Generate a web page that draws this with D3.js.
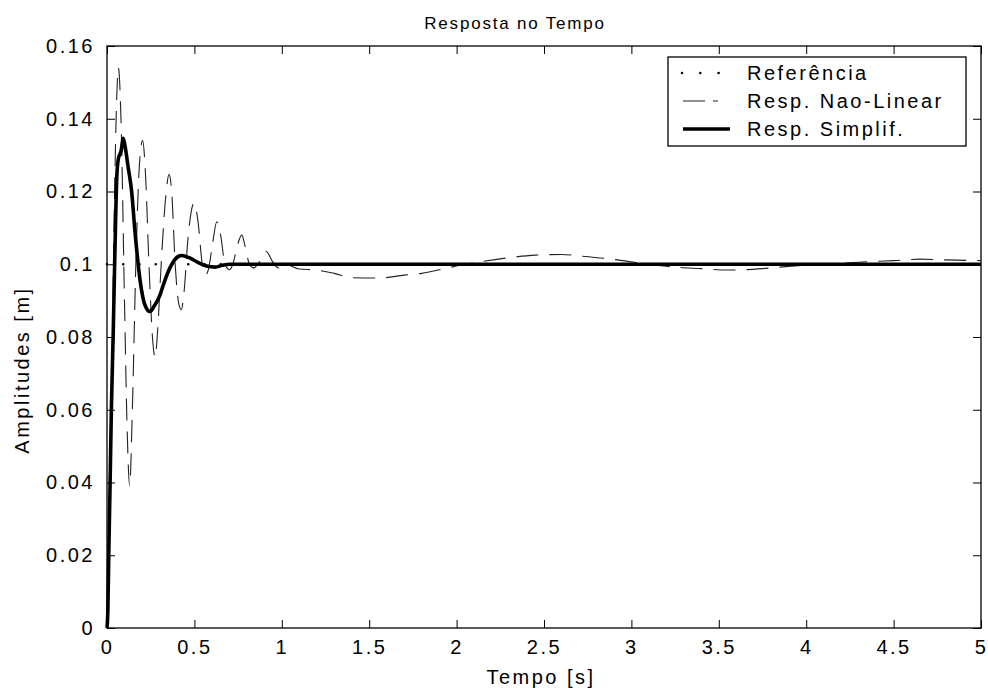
<!DOCTYPE html>
<html lang="pt">
<head>
  <meta charset="UTF-8">
  <title>Resposta no Tempo</title>
  <style>
    body { margin: 0; background: #fff; }
    svg text { font-family: "Liberation Sans", Arial, sans-serif; fill: #000; }
  </style>
</head>
<body>
    <script src="https://cdn.jsdelivr.net/npm/d3@7/dist/d3.min.js"></script>
    <script>
      const width = 988
      const height = 688
      const margin = {top: 46, right: 7, bottom: 60, left: 107}

      // eixos
      const xTicks = [0, 0.5, 1, 1.5, 2, 2.5, 3, 3.5, 4, 4.5, 5]
      const yTicks = [0, 0.02, 0.04, 0.06, 0.08, 0.1, 0.12, 0.14, 0.16]

      // referencia (degrau de 0.1 m)
      const refTime = [0, 5]
      const refValue = [0.1, 0.1]

      // resposta nao-linear
      const nlTime = [0, 0.02, 0.04, 0.055, 0.065, 0.08, 0.1, 0.115, 0.13, 0.145, 0.165, 0.185, 0.204,
        0.22, 0.24, 0.26, 0.275, 0.29, 0.31, 0.335, 0.355, 0.37, 0.39, 0.41, 0.425, 0.44, 0.465, 0.498,
        0.52, 0.545, 0.562, 0.58, 0.605, 0.628, 0.65, 0.675, 0.7, 0.72, 0.745, 0.771, 0.79, 0.815, 0.84,
        0.87, 0.91, 0.95, 0.98, 1.02, 1.1, 1.2, 1.3, 1.4, 1.55, 1.7, 1.8, 1.95, 2.05, 2.15, 2.3, 2.45,
        2.6, 2.7, 2.85, 2.95, 3.1, 3.25, 3.4, 3.55, 3.65, 3.75, 3.85, 4.0, 4.2, 4.4, 4.5, 4.65, 4.8, 5]
      const nlValue = [0, 0.04, 0.11, 0.145, 0.154, 0.14, 0.09, 0.055, 0.039, 0.06, 0.1, 0.127, 0.134,
        0.125, 0.1, 0.08, 0.0744, 0.082, 0.1, 0.118, 0.1247, 0.12, 0.1, 0.0893, 0.0875, 0.092, 0.108, 0.1168,
        0.112, 0.1, 0.097, 0.0985, 0.106, 0.1117, 0.108, 0.1, 0.0985, 0.1, 0.105, 0.108, 0.105, 0.1, 0.099,
        0.1005, 0.1035, 0.1005, 0.099, 0.1, 0.0987, 0.0984, 0.0975, 0.0963, 0.0962, 0.097, 0.0975, 0.099, 0.1,
        0.1008, 0.1018, 0.1025, 0.1027, 0.1023, 0.1016, 0.101, 0.1, 0.0992, 0.0988, 0.0984, 0.0985, 0.0988,
        0.0992, 0.0998, 0.1003, 0.1008, 0.101, 0.1014, 0.1012, 0.101]

      // resposta simplificada
      const simTime = [0, 0.005, 0.01, 0.017, 0.025, 0.036, 0.046, 0.056, 0.065, 0.08, 0.093, 0.105, 0.12,
        0.141, 0.16, 0.189, 0.217, 0.246, 0.27, 0.303, 0.32, 0.36, 0.41, 0.428, 0.47, 0.52, 0.57, 0.618,
        0.66, 0.7, 5]
      const simValue = [0, 0.005, 0.02, 0.038, 0.06, 0.082, 0.105, 0.124, 0.129, 0.131, 0.1346, 0.132, 0.127,
        0.12, 0.109, 0.0957, 0.0888, 0.087, 0.0885, 0.0915, 0.094, 0.099, 0.1022, 0.1024, 0.1018, 0.1005,
        0.0995, 0.0992, 0.0997, 0.1, 0.1]

      const legendLabels = ["Referência", "Resp. Nao-Linear", "Resp. Simplif."]

      const iw = width - margin.left - margin.right
      const ih = height - margin.top - margin.bottom

      const x = d3.scaleLinear().domain([0, 5]).range([0, iw])
      const y = d3.scaleLinear().domain([0, 0.16]).range([ih, 0])

      const svg = d3.select("body").append("svg")
        .attr("width", width)
        .attr("height", height)

      const g = svg.append("g")
        .attr("transform", "translate(" + margin.left + "," + margin.top + ")")

      const fmt = d => String(+d.toFixed(2))
      const fontSize = 20
      const spacing = "2.5px"

      // eixos com ticks para dentro (estilo matlab)
      const axB = g.append("g").attr("transform", "translate(0," + ih + ")")
        .call(d3.axisBottom(x).tickValues(xTicks).tickFormat(fmt).tickSizeInner(-8).tickSizeOuter(0).tickPadding(12))
      const axT = g.append("g")
        .call(d3.axisTop(x).tickValues(xTicks).tickFormat("").tickSizeInner(-8).tickSizeOuter(0))
      const axL = g.append("g")
        .call(d3.axisLeft(y).tickValues(yTicks).tickFormat(fmt).tickSizeInner(-8).tickSizeOuter(0).tickPadding(12))
      const axR = g.append("g").attr("transform", "translate(" + iw + ",0)")
        .call(d3.axisRight(y).tickValues(yTicks).tickFormat("").tickSizeInner(-8).tickSizeOuter(0))

      ;[axB, axT, axL, axR].forEach(a => {
        a.select(".domain").remove()
        a.selectAll("line").attr("stroke", "#000")
        a.selectAll("text").attr("font-size", fontSize).attr("letter-spacing", spacing)
          .attr("font-family", "Liberation Sans, Arial, sans-serif")
      })

      // moldura
      g.append("rect").attr("width", iw).attr("height", ih)
        .attr("fill", "none").attr("stroke", "#000").attr("stroke-width", 1.3)

      const line = d3.line().x(d => x(d[0])).y(d => y(d[1]))

      g.append("path")
        .datum(d3.zip(refTime, refValue))
        .attr("d", line)
        .attr("fill", "none").attr("stroke", "#000").attr("stroke-width", 2.6)
        .attr("stroke-linecap", "round").attr("stroke-dasharray", "0,16.25")

      g.append("path")
        .datum(d3.zip(nlTime, nlValue))
        .attr("d", line.curve(d3.curveMonotoneX))
        .attr("fill", "none").attr("stroke", "#222").attr("stroke-width", 1.1)
        .attr("stroke-dasharray", "22,11")

      g.append("path")
        .datum(d3.zip(simTime, simValue))
        .attr("d", line.curve(d3.curveMonotoneX))
        .attr("fill", "none").attr("stroke", "#000").attr("stroke-width", 3.6)
        .attr("stroke-linejoin", "round")

      // titulos
      svg.append("text").attr("x", 515).attr("y", 29).attr("text-anchor", "middle")
        .attr("font-size", 17).attr("letter-spacing", "1.8px").text("Resposta no Tempo")
      svg.append("text").attr("x", 541).attr("y", 684).attr("text-anchor", "middle")
        .attr("font-size", fontSize).attr("letter-spacing", spacing).text("Tempo [s]")
      svg.append("text").attr("transform", "translate(29,370) rotate(-90)")
        .attr("text-anchor", "middle")
        .attr("font-size", fontSize).attr("letter-spacing", spacing).text("Amplitudes [m]")

      // legenda
      const lg = svg.append("g").attr("transform", "translate(668,57)")
      lg.append("rect").attr("width", 298).attr("height", 89)
        .attr("fill", "#fff").attr("stroke", "#000").attr("stroke-width", 1.3)
      const rows = lg.selectAll("g.row").data(legendLabels).enter().append("g")
        .attr("transform", (d, i) => "translate(0," + (16 + i * 28) + ")")
      rows.append("text").attr("x", 79).attr("y", 7)
        .attr("font-size", fontSize).attr("letter-spacing", spacing).text(d => d)
      rows.filter((d, i) => i === 0).append("line")
        .attr("x1", 14).attr("x2", 52).attr("stroke", "#000").attr("stroke-width", 2.6)
        .attr("stroke-linecap", "round").attr("stroke-dasharray", "0,18.3")
      rows.filter((d, i) => i === 1).append("line")
        .attr("x1", 15).attr("x2", 50).attr("stroke", "#222").attr("stroke-width", 1.1)
        .attr("stroke-dasharray", "22,8")
      rows.filter((d, i) => i === 2).append("line")
        .attr("x1", 15).attr("x2", 62).attr("stroke", "#000").attr("stroke-width", 3.6)
    </script>
</body>
</html>
